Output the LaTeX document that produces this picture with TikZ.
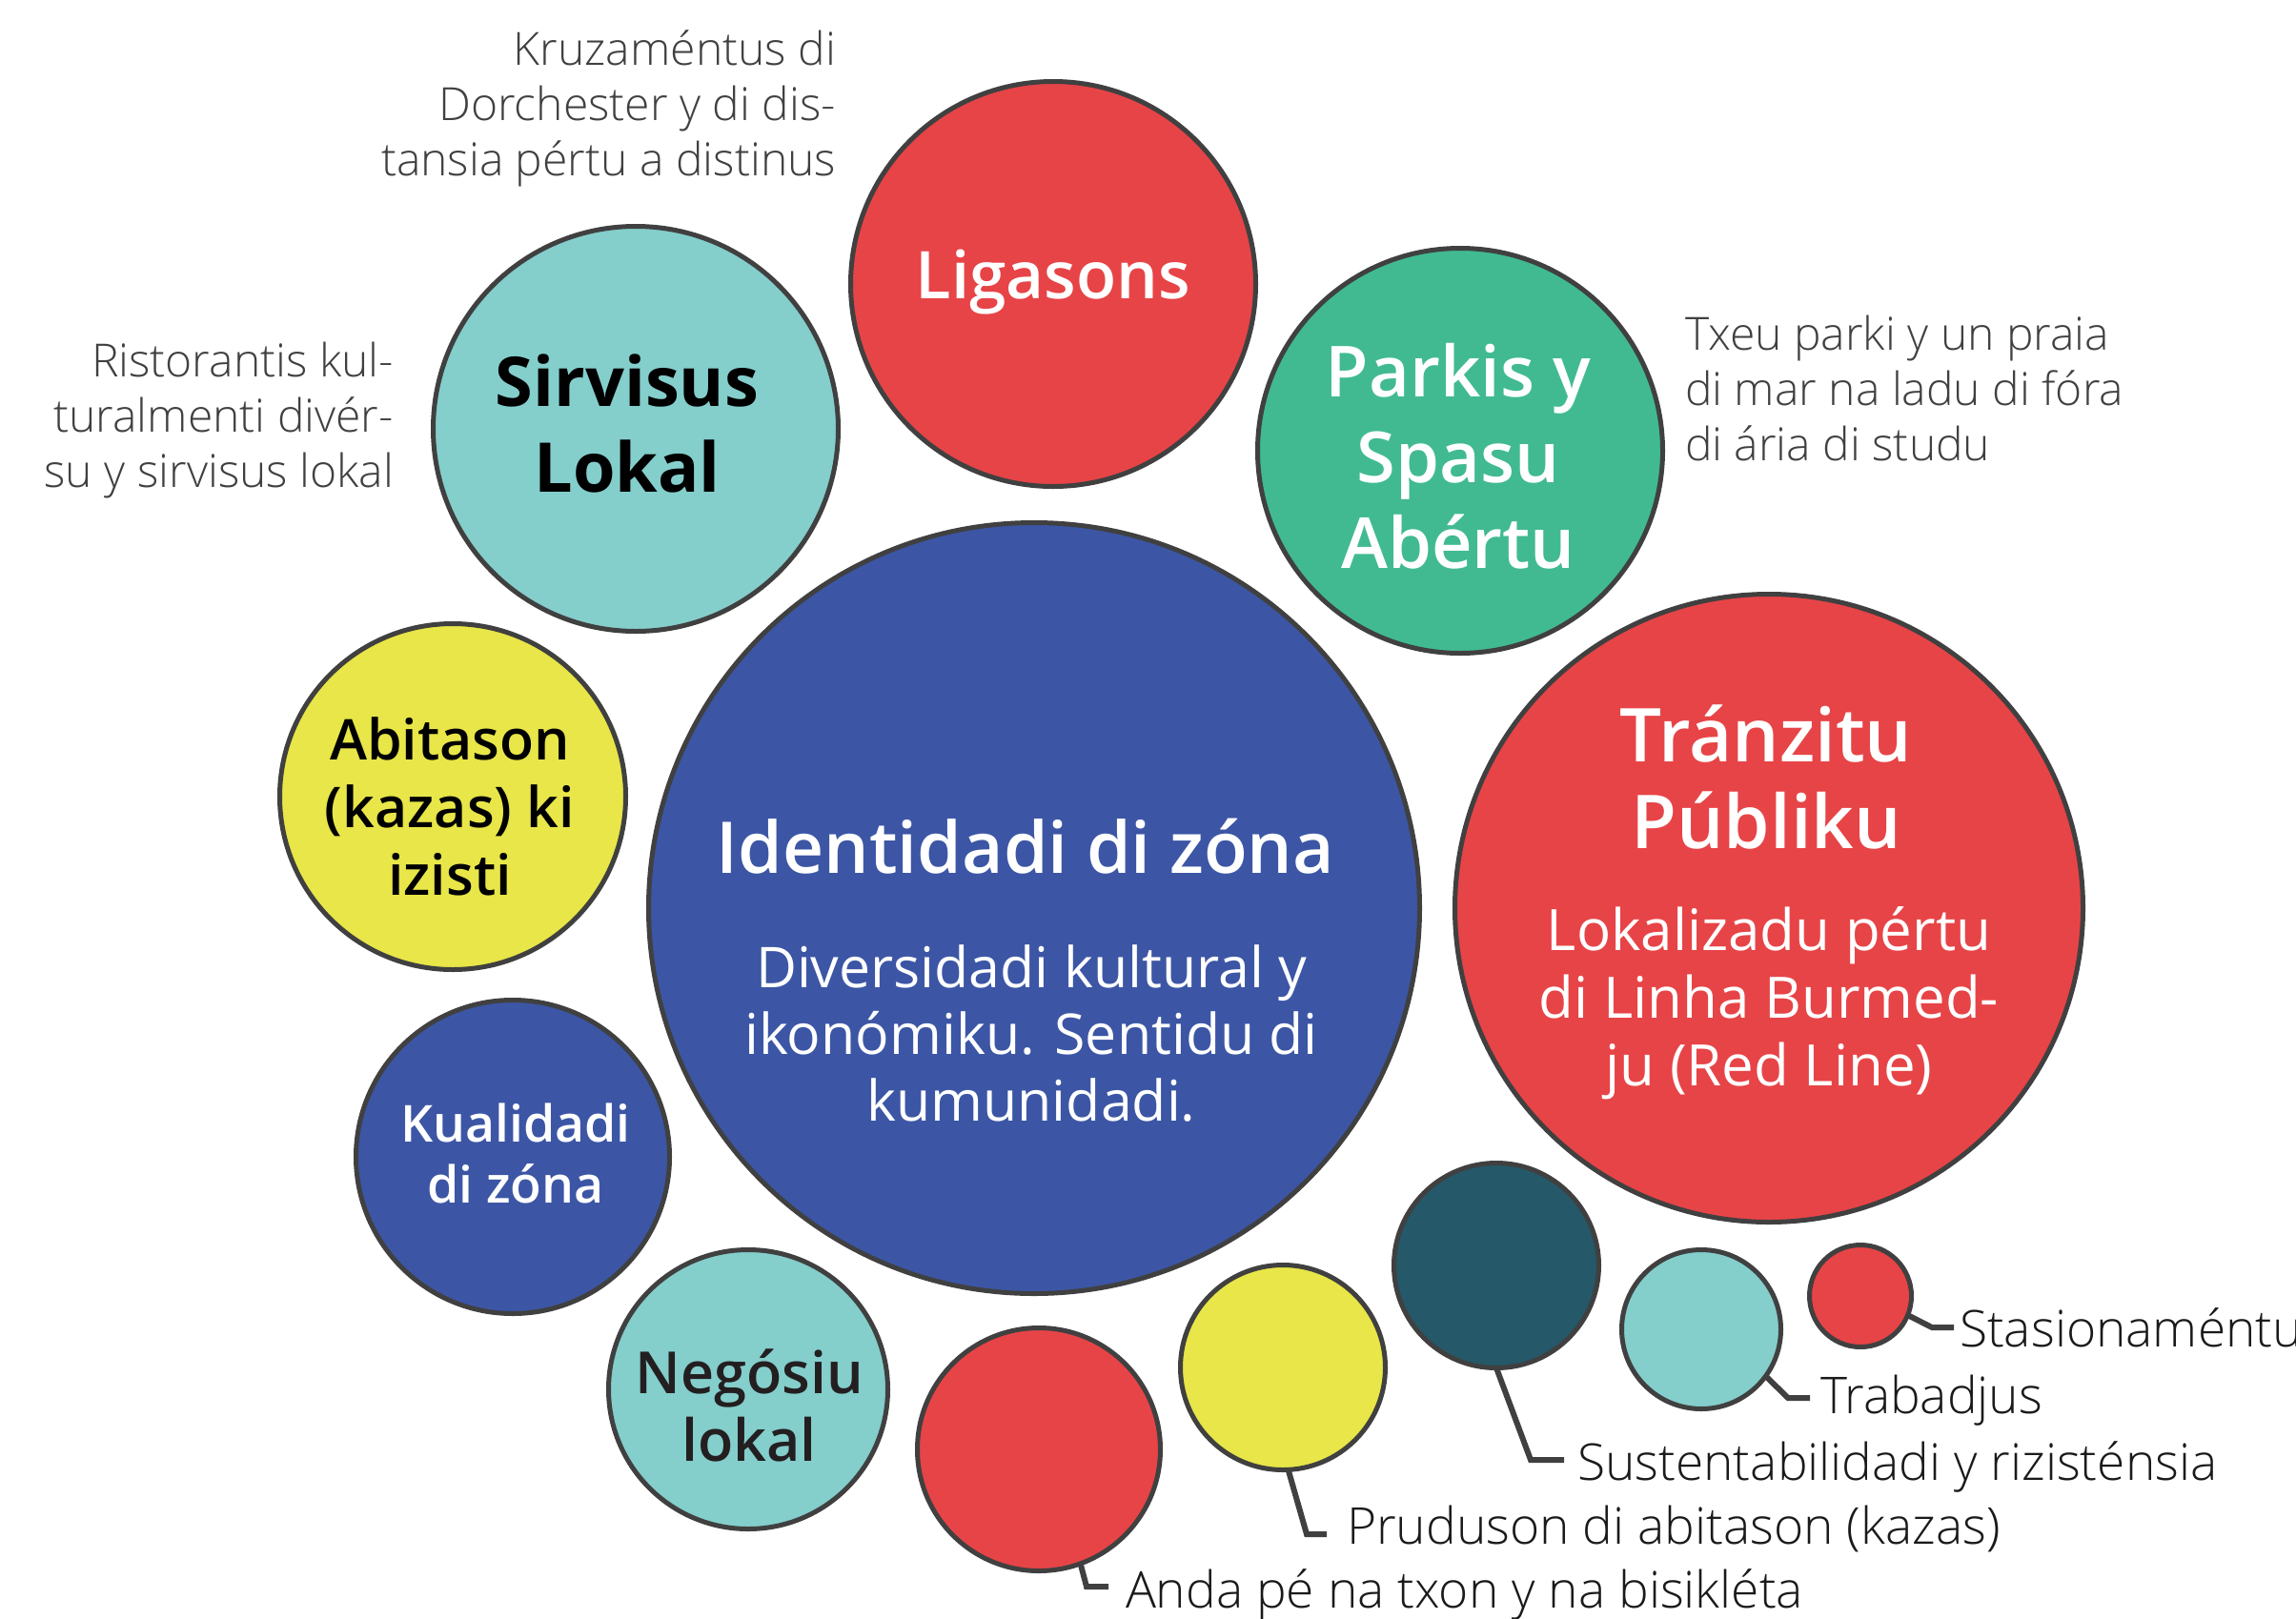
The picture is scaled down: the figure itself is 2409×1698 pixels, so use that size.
\documentclass[tikz,border=0pt]{standalone}
\usepackage{fontspec}
\setmainfont{Open Sans}
\newfontfamily\osl{Open Sans Light}
\newfontfamily\oss{Open Sans Semibold}
\newfontfamily\osb{Open Sans Bold}
\definecolor{cred}{HTML}{E74447}
\definecolor{cteal}{HTML}{84CECC}
\definecolor{cblue}{HTML}{3C56A5}
\definecolor{cyel}{HTML}{E8E648}
\definecolor{cgreen}{HTML}{41BA92}
\definecolor{cdark}{HTML}{255868}
\definecolor{edge}{HTML}{404040}
\definecolor{desc}{HTML}{404040}
\definecolor{lab}{HTML}{1A1A1A}
\definecolor{negtxt}{HTML}{231F20}
\tikzset{
  bub/.style={circle,draw=edge,line width=5pt,inner sep=0pt,outer sep=0pt,minimum size={(2*#1-5)*1pt}},
  txt/.style={inner sep=0pt,outer sep=0pt,align=center,anchor=base},
  sb/.style 2 args={font=\oss\fontsize{#1}{#2}\selectfont},
  rg/.style 2 args={font=\fontsize{#1}{#2}\selectfont},
  dsc/.style={inner sep=0pt,outer sep=0pt,text=desc,font=\osl\fontsize{48}{58}\selectfont},
  lbl/.style={inner sep=0pt,outer sep=0pt,anchor=base west,text=lab,font=\osl\fontsize{53.3}{62}\selectfont},
  conn/.style={draw=edge,line width=6pt}
}
\begin{document}
\begin{tikzpicture}[x=1pt,y=-1pt]
\useasboundingbox (0,0) rectangle (2409,1698);
% circles
\node[bub=215,fill=cred]   (lig) at (1105,298) {};
\node[bub=215,fill=cteal]  (sir) at (667,450) {};
\node[bub=215,fill=cgreen] (par) at (1532,473) {};
\node[bub=407,fill=cblue]  (ide) at (1085,953) {};
\node[bub=332,fill=cred]   (tra) at (1856,953) {};
\node[bub=184,fill=cyel]   (abi) at (475,836) {};
\node[bub=167,fill=cblue]  (kua) at (538,1214) {};
\node[bub=149,fill=cteal]  (neg) at (785,1458) {};
\node[bub=130,fill=cred]   (and) at (1090,1521) {};
\node[bub=110,fill=cyel]   (pru) at (1346,1435) {};
\node[bub=110,fill=cdark]  (sus) at (1570,1328) {};
\node[bub=86,fill=cteal]   (trb) at (1785,1395) {};
\node[bub=56,fill=cred]    (sta) at (1952,1360) {};
% circle texts (base anchor = baseline of last line)
\node[txt,sb={69}{83},text=white] (tlig) at (1105,313) {Ligasons};
\node[txt,font=\osb\fontsize{72}{90}\selectfont,text=black] (tsir) at (658,516) {Sirvisus\\Lokal};
\node[txt,sb={74}{90},text=white] (tpar) at (1530,596) {Parkis y\\Spasu\\Abértu};
\node[txt,sb={75}{94},text=white] (tide) at (1076,916) {Identidadi di zóna};
\node[txt,rg={59}{70},text=white] (tdiv) at (1082,1176) {Diversidadi kultural y\\ikonómiku. Sentidu di\\kumunidadi.};
\node[txt,sb={78}{91},text=white] (ttra) at (1853,890) {Tránzitu\\Públiku};
\node[txt,rg={60}{71},text=white] (tlok) at (1856,1139) {Lokalizadu pértu\\di Linha Burmed-\\ju (Red Line)};
\node[txt,sb={59}{71},text=black] (tabi) at (472,939) {Abitason\\(kazas) ki\\izisti};
\node[txt,sb={53.5}{64},text=white] (tkua) at (541,1262) {Kualidadi\\di zóna};
\node[txt,sb={61}{71},text=negtxt] (tneg) at (786,1533) {Negósiu\\lokal};
% descriptions
\node[dsc,align=right,anchor=base east] (dkru) at (877,184) {Kruzaméntus di\\Dorchester y di dis-\\tansia pértu a distinus};
\node[dsc,align=right,anchor=base east] (dris) at (413,511) {Ristorantis kul-\\turalmenti divér-\\su y sirvisus lokal};
\node[dsc,align=left,anchor=base west] (dtxe) at (1768,483) {Txeu parki y un praia\\di mar na ladu di fóra\\di ária di studu};
% bottom labels
\node[lbl] (lsta) at (2056,1413) {Stasionaméntu};
\node[lbl] (ltrb) at (1910,1483) {Trabadjus};
\node[lbl] (lsus) at (1655,1553) {Sustentabilidadi y rizisténsia};
\node[lbl] (lpru) at (1413,1620) {Pruduson di abitason (kazas)};
\node[lbl] (land) at (1181,1687) {Anda pé na txon y na bisikléta};
% connector ends
\coordinate (esta) at (2050,1393);
\coordinate (etrb) at (1899,1467);
\coordinate (esus) at (1641,1532);
\coordinate (epru) at (1392,1610);
\coordinate (eand) at (1163,1665);
\draw[conn] (sta.-22) -- (2027,1393) -- (esta);
\draw[conn] (trb.-36) -- (1876,1467) -- (etrb);
\draw[conn] (sus.-90) -- (1606,1532) -- (esus);
\draw[conn] (pru.-87) -- (1371,1610) -- (epru);
\draw[conn] (and.-70) -- (1140,1665) -- (eand);
\end{tikzpicture}
\end{document}
